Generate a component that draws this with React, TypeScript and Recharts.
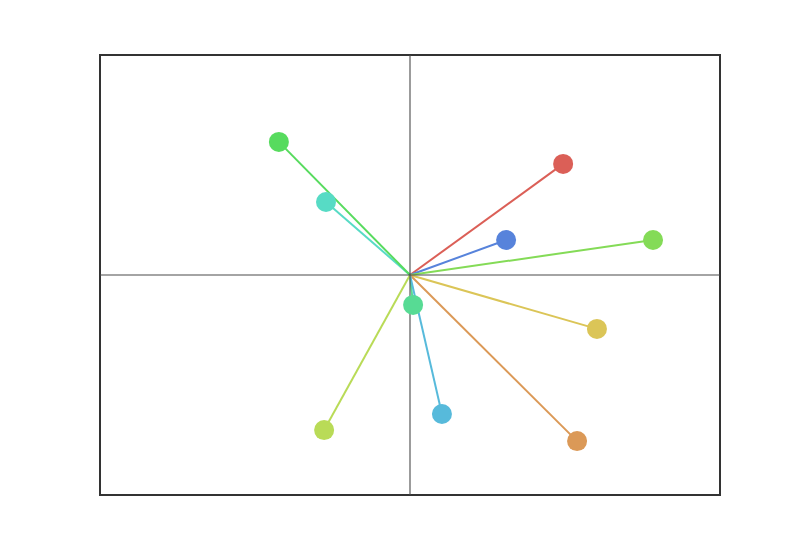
import React from "react";
import { LineChart, Line, XAxis, YAxis, ReferenceLine, ReferenceArea } from "recharts";

const names = ["tealgreen", "turquoise", "red", "blue", "lightgreen", "yellow", "orange", "cyan", "yellowgreen", "green"];
const xs = [0.01, -0.271, 0.494, 0.31, 0.784, 0.603, 0.539, 0.103, -0.277, -0.423];
const ys = [-0.136, 0.332, 0.505, 0.159, 0.159, -0.245, -0.755, -0.632, -0.705, 0.605];
const colors = ["#57db94", "#57dbc5", "#db5f57", "#5783db", "#84db57", "#dbc557", "#db9957", "#57badb", "#b9db57", "#57db5e"];

const EndDot = (props: any) => {
  const { cx, cy, index, stroke } = props;
  if (index !== 1) return <g />;
  return <circle cx={cx} cy={cy} r={10} fill={stroke} stroke="none" />;
};

export default function App() {
  return (
    <div style={{ position: "absolute", left: 0, top: 0, width: 800, height: 550, background: "#fff" }}>
      <LineChart width={800} height={550} margin={{ top: 55, left: 100, right: 80, bottom: 55 }}>
        <XAxis type="number" dataKey="x" domain={[-1, 1]} hide allowDataOverflow />
        <YAxis type="number" dataKey="y" domain={[-1, 1]} hide allowDataOverflow />
        {names.map((n, i) => (
          <Line
            key={n}
            name={n}
            data={[{ x: 0, y: 0 }, { x: xs[i], y: ys[i] }]}
            dataKey="y"
            stroke={colors[i]}
            strokeWidth={2}
            dot={<EndDot />}
            activeDot={false}
            isAnimationActive={false}
          />
        ))}
        <ReferenceLine x={0} stroke="#4a4a4a" strokeWidth={1.1} />
        <ReferenceLine y={0} stroke="#4a4a4a" strokeWidth={1.1} />
        <ReferenceArea x1={-1} x2={1} y1={-1} y2={1} fill="none" stroke="#333" strokeWidth={2} fillOpacity={0} />
      </LineChart>
    </div>
  );
}
